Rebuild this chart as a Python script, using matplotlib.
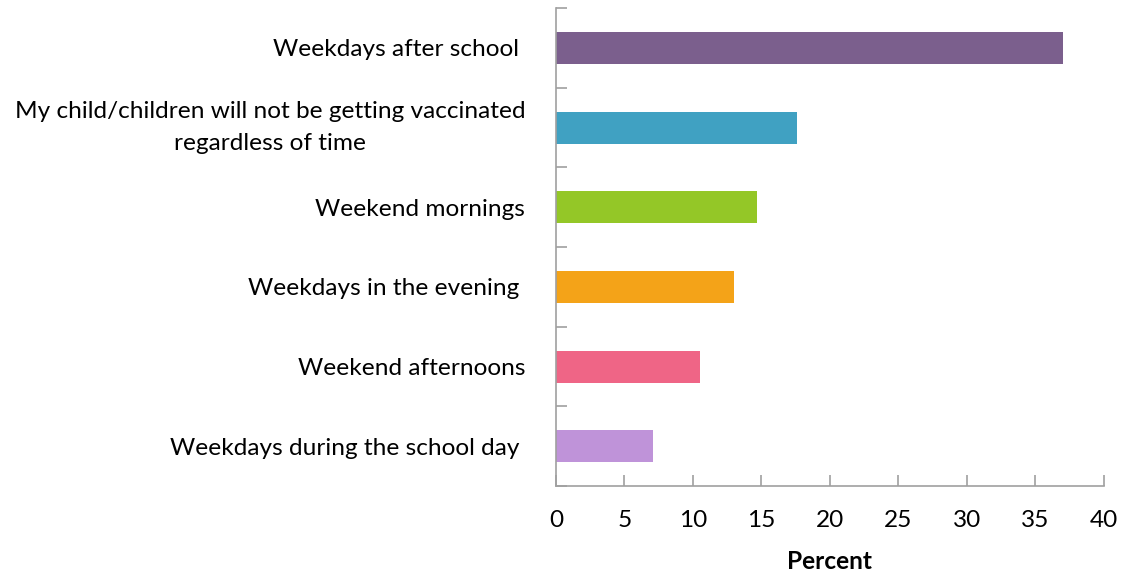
import matplotlib.pyplot as plt

#%% Data
categories = [
    "Weekdays after school ",
    "My child/children will not be getting vaccinated\nregardless of time",
    "Weekend mornings",
    "Weekdays in the evening ",
    "Weekend afternoons",
    "Weekdays during the school day ",
]
values = [37.0, 17.6, 14.7, 13.0, 10.5, 7.1]
colors = ['#7B5F8D', '#40A1C2', '#94C727', '#F4A318', '#EF6586', '#BF93D9']
xticks = [0, 5, 10, 15, 20, 25, 30, 35, 40]

plt.rcParams['font.family'] = ['Lato', 'DejaVu Sans']
fs = 17.6

#%% Plotting
fig = plt.figure(figsize=(11.23, 5.74), dpi=100)
ax = fig.add_axes([0.495, 0.153, 0.488, 0.833])

pos = list(range(len(categories)))
ax.barh(pos, values, height=0.4, color=colors)
ax.set_ylim(len(categories) - 0.5, -0.5)
ax.set_xlim(0, 40)

ax.set_yticks(pos)
ax.set_yticklabels(categories, fontsize=fs, multialignment='center', linespacing=1.65)
# two-line label: centre the whole block on the bar
for lab in ax.get_yticklabels():
    if '\n' in lab.get_text():
        lab.set_verticalalignment('center')
ax.set_yticks([p - 0.5 for p in pos] + [len(categories) - 0.5], minor=True)
ax.tick_params(axis='y', which='major', length=0, pad=22)
ax.tick_params(axis='y', which='minor', direction='in', length=8, color='#A0A0A0', width=1.2)

ax.set_xticks(xticks)
ax.tick_params(axis='x', direction='in', length=8, color='#A0A0A0', width=1.2, pad=17, labelsize=fs)
ax.set_xlabel("Percent", fontsize=fs, fontweight='bold', labelpad=14)

for s in ['top', 'right']:
    ax.spines[s].set_visible(False)
for s in ['left', 'bottom']:
    ax.spines[s].set_color('#A0A0A0')
    ax.spines[s].set_linewidth(1.2)

fig.savefig('out.png', dpi=100)
